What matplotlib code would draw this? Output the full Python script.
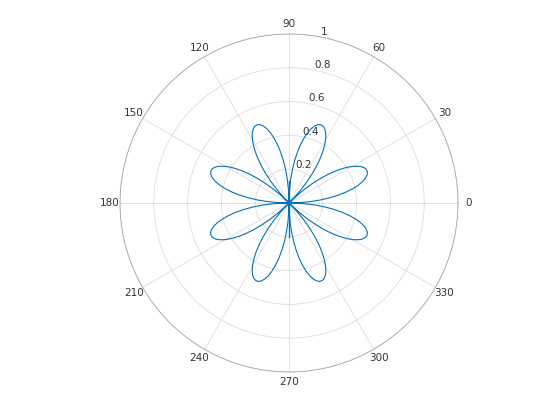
import numpy as np
import matplotlib
matplotlib.use("Agg")
import matplotlib.pyplot as plt

# rose curve r = amp*sin(k*theta)
amp = 0.5
k = 4
n_pts = 200
theta = np.linspace(0, 2 * np.pi, n_pts)
rho = amp * np.sin(k * theta)

# short vertical segment through the origin
seg_theta = [np.pi / 2, 3 * np.pi / 2]
seg_rho = [0.13, 0.2]

rticks = [0.2, 0.4, 0.6, 0.8, 1.0]
rlabels = ["0.2", "0.4", "0.6", "0.8", "1"]
tticks = list(range(0, 360, 30))
tlabels = [str(t) for t in tticks]

blue = "#0072BD"
txt = "#333333"

fig = plt.figure(figsize=(5.6, 4.2), dpi=100)
ax = fig.add_axes([0.2143, 0.1143, 0.6036, 0.8048], projection="polar")

# matlab plots negative r on the opposite side
th = np.where(rho < 0, theta + np.pi, theta)
ax.plot(th, np.abs(rho), color=blue, lw=0.8)
ax.plot(seg_theta, seg_rho, color=blue, lw=1.0)

ax.set_ylim(0, 1)
ax.set_rticks(rticks)
ax.set_yticklabels(rlabels)
ax.set_rlabel_position(79)
ax.set_thetagrids(tticks, tlabels)
ax.tick_params(axis="x", pad=-3, labelsize=7.5, colors=txt)
ax.tick_params(axis="y", labelsize=7.5, colors=txt)
ax.grid(True, color="#dcdcdc", lw=0.6)
ax.spines["polar"].set_color("#a6a6a6")
ax.spines["polar"].set_linewidth(0.6)

fig.savefig("out.png", dpi=100)
